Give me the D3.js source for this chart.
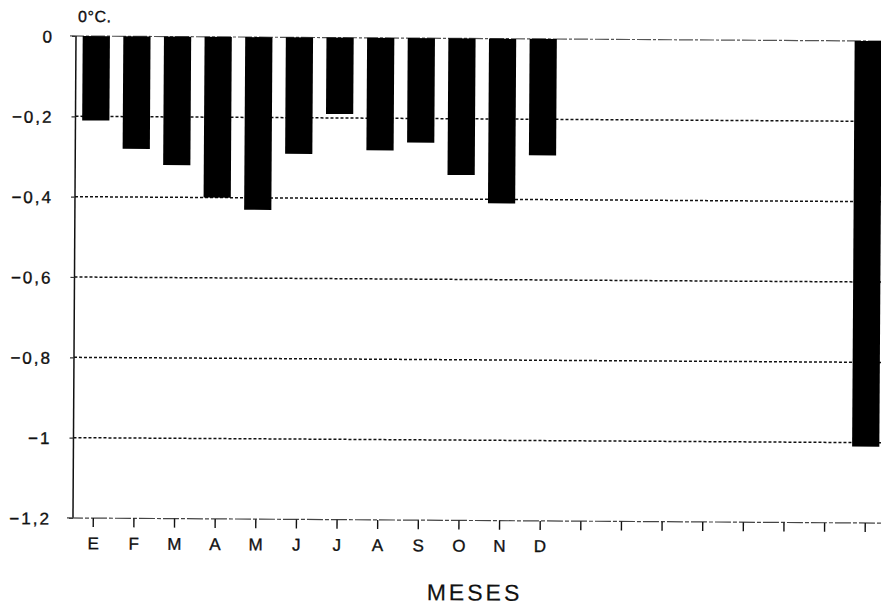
<!DOCTYPE html>
<html>
<head>
<meta charset="utf-8">
<script src="https://cdn.jsdelivr.net/npm/d3@7"></script>
<style>
  html, body { margin: 0; padding: 0; background: #fff; }
  svg { display: block; }
  text { font-family: "Liberation Sans", "DejaVu Sans", sans-serif; fill: #111; stroke: #111; stroke-width: 0.35px; }
</style>
</head>
<body>
<svg id="chart" width="881" height="607"></svg>
<script>
// Monthly temperature anomaly (°C) and the yearly total bar
const monthLabels = ["E", "F", "M", "A", "M", "J", "J", "A", "S", "O", "N", "D"];
const monthValues = [-0.21, -0.28, -0.32, -0.40, -0.43, -0.29, -0.19, -0.28, -0.26, -0.34, -0.41, -0.29];
const annualValue = -1.01;
const slotCount = 20;          // 12 months + empty slots + yearly bar
const annualSlot = 19;
const yTicks = [0, -0.2, -0.4, -0.6, -0.8, -1, -1.2];
const gridValues = [-0.2, -0.4, -0.6, -0.8, -1];
const yUnit = "0°C.";
const xTitle = "MESES";

const svg = d3.select("#chart");
const plotLeft = 76, plotTop = 36, plotBottom = 518, slotW = 40.63;

// the whole plot sits at a slight clockwise tilt
const g = svg.append("g").attr("transform", `rotate(0.36, ${plotLeft}, ${plotTop})`);

const slots = d3.range(slotCount);
const x = d3.scaleBand().domain(slots).range([plotLeft, plotLeft + slotW * slotCount]).paddingInner(0.33).paddingOuter(0.165);
const y = d3.scaleLinear().domain([-1.2, 0]).range([plotBottom, plotTop]);

const bars = monthValues.map((v, i) => ({ slot: i, value: v }))
  .concat([{ slot: annualSlot, value: annualValue }]);

// dotted reference lines
g.append("g").selectAll("line").data(gridValues).join("line")
  .attr("x1", plotLeft).attr("x2", 900)
  .attr("y1", d => y(d)).attr("y2", d => y(d))
  .attr("stroke", "#111").attr("stroke-width", 1.5).attr("stroke-dasharray", "3,2");

// zero line
g.append("line")
  .attr("x1", plotLeft - 6).attr("x2", 900).attr("y1", y(0)).attr("y2", y(0))
  .attr("stroke", "#555").attr("stroke-width", 1.2).attr("stroke-dasharray", "14,2,3,2");

// bars hanging from zero
g.append("g").selectAll("rect").data(bars).join("rect")
  .attr("x", d => x(d.slot))
  .attr("width", x.bandwidth())
  .attr("y", y(0))
  .attr("height", d => y(d.value) - y(0))
  .attr("fill", "#000");

// y axis
const yAxis = d3.axisLeft(y).tickValues(yTicks).tickSize(4).tickPadding(18)
  .tickFormat(d => d === 0 ? "0" : d3.format(".1f")(d).replace("-", "\u2212").replace(".", ",").replace(/,0$/, ""));
const ya = g.append("g").attr("transform", `translate(${plotLeft},0)`).call(yAxis);
ya.select(".domain").attr("stroke", "#111").attr("stroke-width", 1.5).attr("d", `M0,${plotTop}V${plotBottom}`);
ya.selectAll(".tick line").attr("stroke", "#333").attr("stroke-width", 1.2);
ya.selectAll(".tick text").attr("font-size", 17).attr("letter-spacing", 2).attr("dy", "0.36em").attr("fill", "#111");

// x axis
const xLabels = slots.map(i => i < monthLabels.length ? monthLabels[i] : "");
const xAxis = d3.axisBottom(x).tickSize(9).tickPadding(10).tickFormat(i => xLabels[i]);
const xa = g.append("g").attr("transform", `translate(0,${plotBottom})`).call(xAxis);
xa.select(".domain").attr("stroke", "#444").attr("stroke-width", 1.2).attr("stroke-dasharray", "16,2,4,2")
  .attr("d", `M${plotLeft - 6},0H900`);
xa.selectAll(".tick line").attr("stroke", "#111").attr("stroke-width", 1.4);
xa.selectAll(".tick text").attr("font-size", 17).attr("fill", "#111");

// unit label and axis title
g.append("text").attr("x", 78).attr("y", 22).attr("font-size", 16).attr("letter-spacing", 0.5).text(yUnit);
g.append("text").attr("x", 478).attr("y", 598).attr("text-anchor", "middle")
  .attr("font-size", 23).attr("letter-spacing", 3).style("stroke-width", "0.2px").text(xTitle);
</script>
</body>
</html>
